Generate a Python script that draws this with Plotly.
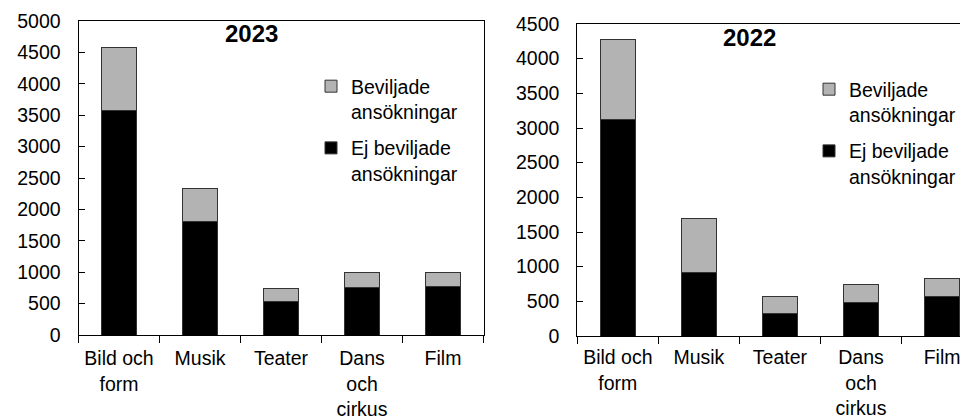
import plotly.graph_objects as go

# kategorier och värden
categories = ["Bild och<br>form", "Musik", "Teater", "Dans<br>och<br>cirkus", "Film"]

ej_2023 = [3580, 1800, 540, 760, 780]
bev_2023 = [1000, 540, 205, 235, 215]

ej_2022 = [3120, 920, 325, 490, 575]
bev_2022 = [1160, 770, 240, 260, 255]

# sidan har 8 px marginal, så figuren görs 8 px mindre och koordinaterna flyttas
OFF = 8
W, H = 968 - OFF, 419 - OFF
FONT = "Arial, Liberation Sans, sans-serif"
GREY = "#b3b3b3"
EDGE = "#333333"
FS = 19.5


def px_x(p):
    return (p - OFF) / W


def px_y(p):
    return 1 - (p - OFF) / H


fig = go.Figure()

# 2023 (vänster)
fig.add_trace(go.Bar(x=categories, y=ej_2023, name="Ej beviljade<br>ansökningar",
                     marker=dict(color="black", line=dict(color=EDGE, width=1)),
                     xaxis="x", yaxis="y", legend="legend", legendgroup="a", legendrank=2))
fig.add_trace(go.Bar(x=categories, y=bev_2023, name="Beviljade<br>ansökningar",
                     marker=dict(color=GREY, line=dict(color=EDGE, width=1)),
                     xaxis="x", yaxis="y", legend="legend", legendgroup="b", legendrank=1))

# 2022 (höger)
fig.add_trace(go.Bar(x=categories, y=ej_2022, name="Ej beviljade<br>ansökningar",
                     marker=dict(color="black", line=dict(color=EDGE, width=1)),
                     xaxis="x2", yaxis="y2", legend="legend2", legendgroup="c", legendrank=2))
fig.add_trace(go.Bar(x=categories, y=bev_2022, name="Beviljade<br>ansökningar",
                     marker=dict(color=GREY, line=dict(color=EDGE, width=1)),
                     xaxis="x2", yaxis="y2", legend="legend2", legendgroup="d", legendrank=1))

axis_common = dict(showline=True, linecolor="black", linewidth=1, showgrid=False,
                   zeroline=False, tickfont=dict(size=FS, color="black"),
                   tickcolor="black", automargin=False, tickangle=0)

legend_common = dict(font=dict(size=FS, color="black", family=FONT),
                     traceorder="grouped", tracegroupgap=8,
                     valign="top", itemwidth=30,
                     bgcolor="rgba(0,0,0,0)", xanchor="left", yanchor="top")

fig.update_layout(
    width=W, height=H,
    margin=dict(l=0, r=0, t=0, b=0),
    barmode="stack", bargap=0.57,
    plot_bgcolor="white", paper_bgcolor="white",
    font=dict(family=FONT, size=FS, color="black"),
    xaxis=dict(axis_common, domain=[px_x(78.5), px_x(483.5)], anchor="y",
               mirror=True, ticks="outside", ticklen=7, tickson="boundaries",
               ticklabelstandoff=6, range=[-0.5, 4.5]),
    yaxis=dict(axis_common, domain=[px_y(335), px_y(21)], anchor="x",
               mirror=True, ticks="inside", ticklen=6, ticklabelstandoff=13,
               range=[0, 5000], dtick=500),
    xaxis2=dict(axis_common, domain=[px_x(577.3), 1], anchor="y2",
                mirror=True, ticks="outside", ticklen=7, tickson="boundaries",
                ticklabelstandoff=4, range=[-0.5, 4.32]),
    yaxis2=dict(axis_common, domain=[px_y(336), px_y(24)], anchor="x2",
                mirror=False, ticks="inside", ticklen=6, ticklabelstandoff=13,
                range=[0, 4500], dtick=500),
    legend=dict(legend_common, x=px_x(311), y=px_y(67)),
    legend2=dict(legend_common, x=px_x(809), y=px_y(70)),
    annotations=[
        dict(text="<b>2023</b>", x=px_x(251), y=px_y(33), xref="paper", yref="paper",
             xanchor="center", yanchor="middle",
             showarrow=False, font=dict(size=24, color="black")),
        dict(text="<b>2022</b>", x=px_x(749), y=px_y(37), xref="paper", yref="paper",
             xanchor="center", yanchor="middle",
             showarrow=False, font=dict(size=24, color="black")),
    ],
)

fig.write_html("out.html")
